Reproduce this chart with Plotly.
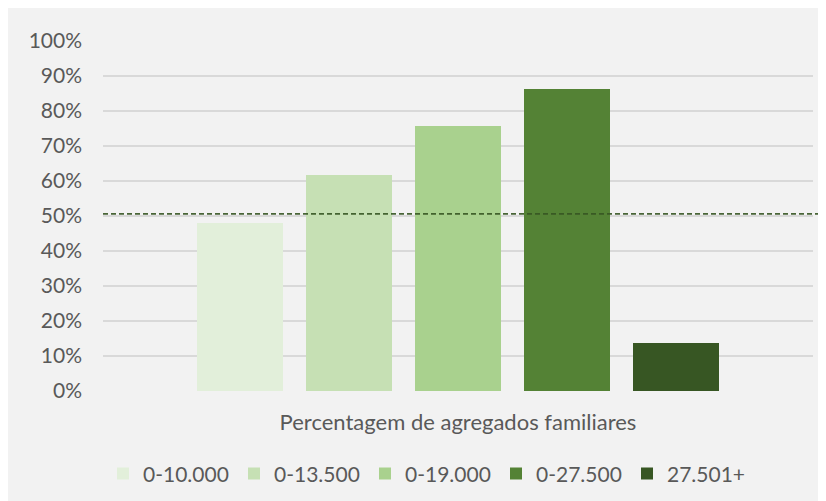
import plotly.graph_objects as go

category = ["Percentagem de agregados familiares"]
series_names = ["0-10.000", "0-13.500", "0-19.000", "0-27.500", "27.501+"]
series_values = [0.48, 0.617, 0.757, 0.863, 0.137]
series_colors = ["#e2efda", "#c6e0b4", "#a9d18e", "#548235", "#375623"]
threshold = 0.506
y_ticks = [0, 0.1, 0.2, 0.3, 0.4, 0.5, 0.6, 0.7, 0.8, 0.9, 1.0]

FONT = "Lato"
TXT = "#595959"

fig = go.Figure()
for name, val, col in zip(series_names, series_values, series_colors):
    fig.add_trace(go.Bar(x=category, y=[val], name=name, marker=dict(color=col, line=dict(width=0)),
                         hoverinfo="name+y"))

fig.add_shape(type="line", xref="paper", yref="y", x0=0, x1=1.03, y0=threshold, y1=threshold,
              line=dict(color="#375623", width=1.8, dash="5px,3px"), opacity=0.9, layer="above")

fig.update_layout(
    width=826, height=501,
    margin=dict(l=95, r=21, t=33, b=118),
    paper_bgcolor="#f2f2f2", plot_bgcolor="#f2f2f2",
    barmode="group", bargap=0.2324, bargroupgap=0.211,
    font=dict(family=FONT, size=21, color=TXT),
    showlegend=True,
    legend=dict(orientation="h", x=0.0, xanchor="left", y=-0.237, yanchor="middle",
                entrywidth=86, entrywidthmode="pixels", font=dict(size=21, color=TXT),
                bgcolor="rgba(0,0,0,0)", traceorder="normal"),
)
fig.update_yaxes(range=[0, 1.0], tickvals=y_ticks, tickformat=".0%", showgrid=True,
                 gridcolor="#d9d9d9", gridwidth=1.8, zeroline=False, showline=False,
                 ticks="", ticklabelstandoff=20, tickfont=dict(size=21, color=TXT))
fig.update_xaxes(showgrid=False, zeroline=False, showline=False, ticks="",
                 ticklabelstandoff=16, tickfont=dict(size=22, color=TXT))

fig.write_html("out.html")
